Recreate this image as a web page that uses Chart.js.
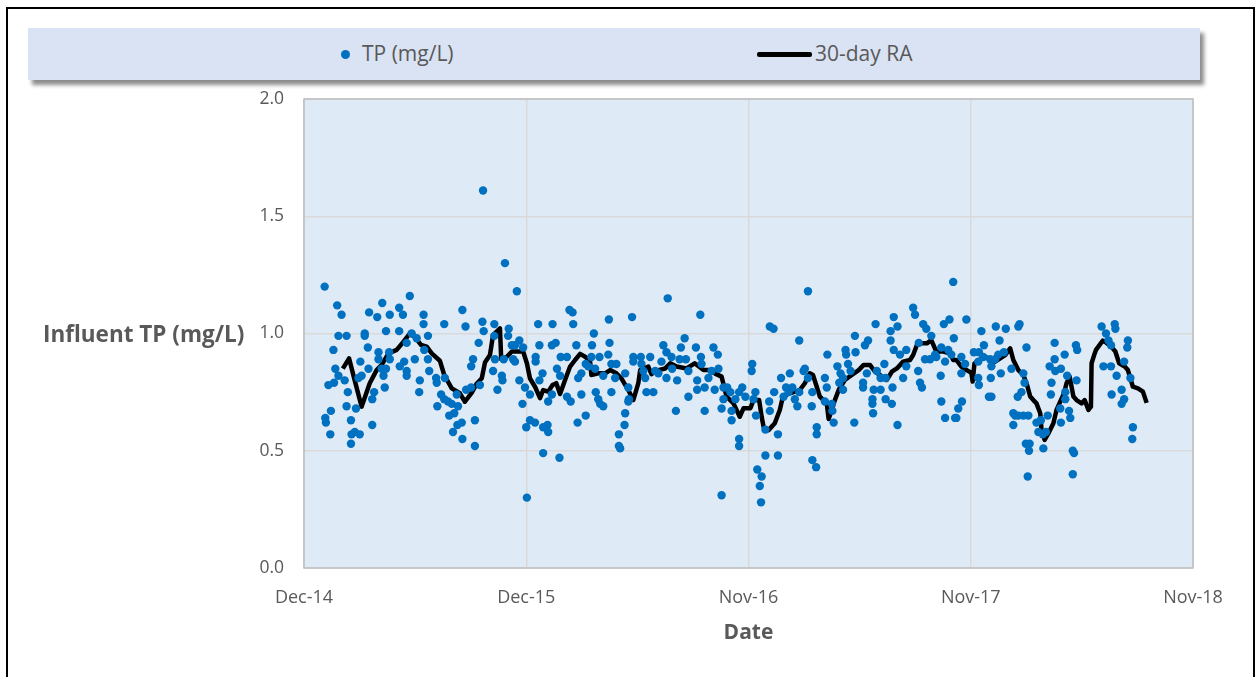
<!DOCTYPE html>
<html>
<head>
<meta charset="utf-8">
<script src="https://cdn.jsdelivr.net/npm/chart.js@4.4.0/dist/chart.umd.min.js"></script>
<style>
  html, body { margin: 0; padding: 0; background: #fff; }
  #wrap { position: relative; width: 1255px; height: 677px; overflow: hidden; font-family: "Open Sans", sans-serif; color: #595959; }
  #frame { position: absolute; left: 6px; top: 7px; width: 1249px; height: 720px; border: 2px solid #000; box-sizing: border-box; }
  #legend { position: absolute; left: 28px; top: 28px; width: 1172px; height: 52px; background: #dae3f3; box-shadow: 4px 5px 4px rgba(0,0,0,0.45); }
  #legend .dot { position: absolute; left: 313px; top: 22px; width: 9px; height: 9px; border-radius: 50%; background: #0070c0; }
  #legend .line { position: absolute; left: 729px; top: 24px; width: 55px; height: 5px; border-radius: 2px; background: #000; }
  #legend .txt { position: absolute; top: 11px; font-size: 21px; line-height: 28px; white-space: nowrap; }
  canvas { position: absolute; left: 0; top: 0; }
</style>
</head>
<body>
<div id="wrap">
  <div id="frame"></div>
  <div id="legend">
    <span class="dot"></span><span class="txt" style="left:334px">TP (mg/L)</span>
    <span class="line"></span><span class="txt" style="left:787px">30-day RA</span>
  </div>
  <canvas id="myChart" width="1255" height="677"></canvas>
</div>
<script>
// x = days after 20 Dec 2014
const xTickLabels = ['Dec-14', 'Dec-15', 'Nov-16', 'Nov-17', 'Nov-18'];
const yTitle = 'Influent TP (mg/L)';

// daily TP samples [day, mg/L]
const tpPoints = [
  [33,1.20],[53,1.12],[60,1.08],[125,1.13],[104,1.09],[117,1.07],[152,1.11],[137,1.08],[158,1.08],[169,1.16],
  [55,0.99],[68,0.99],[97,1.00],[97,0.99],[131,1.01],[152,1.01],[47,0.93],[102,0.94],[119,0.92],[136,0.92],
  [119,0.89],[137,0.89],[90,0.88],[50,0.85],[103,0.85],[160,0.88],[153,0.86],[124,0.85],[131,0.85],[164,0.84],
  [164,0.96],[55,0.82],[65,0.80],[92,0.82],[87,0.81],[48,0.79],[39,0.78],[127,0.82],[164,0.82],[70,0.75],
  [112,0.75],[129,0.77],[109,0.72],[68,0.69],[83,0.68],[43,0.67],[34,0.64],[35,0.62],[75,0.63],[109,0.61],
  [42,0.57],[76,0.57],[89,0.57],[81,0.58],[75,0.53],
  [286,1.61],[321,1.30],[191,1.08],[191,1.04],[224,1.04],[253,1.10],[258,1.03],[285,1.05],[287,1.01],[304,1.04],
  [304,0.99],[327,1.02],[326,0.99],[172,1.00],[180,0.98],[198,0.99],[279,0.96],[332,0.95],[192,0.93],[177,0.89],
  [198,0.89],[270,0.89],[267,0.86],[305,0.89],[319,0.89],[200,0.84],[302,0.84],[185,0.80],[211,0.81],[225,0.81],
  [212,0.79],[316,0.82],[317,0.80],[309,0.76],[184,0.75],[259,0.76],[267,0.77],[281,0.78],[219,0.74],[244,0.74],
  [224,0.72],[230,0.71],[213,0.69],[236,0.70],[246,0.69],[232,0.65],[240,0.66],[245,0.61],[252,0.62],[273,0.63],
  [238,0.58],[253,0.55],[273,0.52],
  [340,1.18],[424,1.10],[429,1.09],[430,1.04],[374,1.04],[397,1.04],[487,1.06],[463,1.00],[344,0.97],[376,0.95],
  [396,0.95],[402,0.96],[435,0.95],[460,0.95],[488,0.96],[337,0.95],[350,0.94],[370,0.90],[370,0.88],[410,0.90],
  [420,0.90],[459,0.90],[472,0.90],[486,0.91],[334,0.89],[337,0.88],[404,0.85],[409,0.82],[450,0.87],[454,0.86],
  [465,0.85],[491,0.87],[499,0.87],[381,0.83],[443,0.83],[438,0.81],[478,0.82],[497,0.81],[344,0.80],[376,0.80],
  [353,0.77],[361,0.74],[420,0.73],[426,0.71],[396,0.74],[390,0.71],[443,0.74],[466,0.75],[470,0.72],[478,0.69],
  [473,0.70],[491,0.75],[349,0.70],[450,0.65],[437,0.62],[361,0.63],[369,0.62],[355,0.60],[382,0.60],[389,0.61],
  [390,0.58],[382,0.49],[408,0.47],[356,0.30],
  [581,1.15],[524,1.07],[633,1.08],[608,0.98],[574,0.95],[602,0.94],[626,0.94],[654,0.94],[661,0.91],[579,0.92],
  [587,0.90],[634,0.90],[526,0.90],[538,0.90],[553,0.90],[526,0.88],[539,0.87],[571,0.88],[600,0.89],[610,0.89],
  [635,0.87],[542,0.84],[561,0.84],[588,0.85],[614,0.84],[651,0.84],[662,0.85],[513,0.83],[566,0.83],[545,0.81],
  [579,0.81],[596,0.80],[628,0.80],[646,0.81],[518,0.77],[547,0.75],[558,0.75],[628,0.76],[640,0.77],[656,0.76],
  [670,0.77],[614,0.73],[519,0.72],[518,0.71],[594,0.67],[640,0.67],[667,0.68],[513,0.66],[512,0.61],[503,0.57],
  [503,0.52],[505,0.51],[667,0.31],
  [805,1.18],[744,1.03],[750,1.02],[791,0.97],[716,0.87],[715,0.84],[800,0.85],[798,0.84],[836,0.91],[776,0.83],
  [762,0.81],[805,0.81],[832,0.81],[676,0.77],[700,0.77],[721,0.75],[751,0.75],[770,0.77],[780,0.77],[791,0.75],
  [812,0.75],[835,0.77],[681,0.75],[695,0.75],[705,0.73],[718,0.72],[766,0.73],[774,0.75],[784,0.72],[670,0.72],
  [689,0.72],[743,0.71],[788,0.69],[811,0.69],[832,0.71],[683,0.67],[744,0.67],[722,0.65],[683,0.63],[737,0.59],
  [757,0.57],[819,0.60],[819,0.57],[695,0.55],[695,0.52],[737,0.48],[757,0.48],[812,0.46],[818,0.43],[724,0.42],
  [731,0.39],[728,0.35],[730,0.28],
  [973,1.11],[976,1.08],[942,1.07],[948,1.03],[913,1.04],[937,1.01],[937,0.97],[880,0.99],[901,0.97],[896,0.95],
  [989,1.04],[994,1.02],[1002,0.99],[982,0.96],[865,0.93],[866,0.91],[881,0.92],[942,0.93],[962,0.93],[952,0.91],
  [992,0.89],[1000,0.89],[852,0.86],[869,0.87],[927,0.87],[962,0.86],[981,0.84],[857,0.83],[873,0.84],[899,0.83],
  [915,0.84],[861,0.81],[921,0.81],[929,0.81],[957,0.81],[893,0.79],[855,0.79],[861,0.76],[893,0.77],[910,0.76],
  [921,0.76],[940,0.77],[984,0.79],[987,0.77],[908,0.72],[929,0.72],[939,0.70],[908,0.70],[909,0.66],[843,0.70],
  [844,0.67],[846,0.62],[879,0.62],[948,0.61],
  [1037,1.22],[1031,1.06],[1022,1.04],[1058,1.06],[1105,1.03],[1121,1.02],[1141,1.03],[1143,1.04],[1082,1.01],[1038,0.98],
  [1111,0.97],[1086,0.95],[1154,0.94],[1018,0.94],[1029,0.93],[1070,0.92],[1078,0.92],[1118,0.92],[1008,0.91],[1010,0.90],
  [1034,0.91],[1050,0.90],[1085,0.90],[1109,0.91],[1024,0.88],[1056,0.87],[1077,0.88],[1096,0.89],[1104,0.89],[1098,0.86],
  [1130,0.85],[1050,0.83],[1113,0.83],[1149,0.83],[1017,0.82],[1077,0.81],[1097,0.81],[1078,0.78],[1151,0.79],[1146,0.75],
  [1140,0.73],[1094,0.73],[1098,0.73],[1018,0.71],[1051,0.71],[1045,0.68],[1024,0.64],[1040,0.64],[1042,0.64],[1133,0.66],
  [1136,0.65],[1141,0.65],[1149,0.65],[1157,0.65],[1133,0.61],[1170,0.62],[1173,0.58],[1153,0.53],[1159,0.53],[1158,0.50],
  [1156,0.39],
  [1274,1.03],[1281,1.00],[1295,1.04],[1296,1.02],[1285,0.97],[1289,0.95],[1316,0.97],[1315,0.94],[1199,0.96],[1233,0.95],
  [1235,0.93],[1215,0.91],[1199,0.89],[1310,0.88],[1277,0.86],[1289,0.86],[1191,0.86],[1200,0.84],[1209,0.85],[1298,0.82],
  [1320,0.81],[1219,0.82],[1234,0.80],[1194,0.79],[1216,0.75],[1193,0.74],[1290,0.74],[1306,0.76],[1310,0.72],[1306,0.70],
  [1216,0.72],[1208,0.68],[1222,0.67],[1224,0.64],[1209,0.62],[1188,0.65],[1177,0.63],[1185,0.58],[1180,0.57],[1181,0.51],
  [1228,0.50],[1230,0.49],[1228,0.40],[1324,0.60],[1323,0.55]
];

// 30-day rolling average [day, mg/L]
const raPoints = [
  [62,0.85],[72,0.894],[81,0.80],[92,0.688],[105,0.788],[116,0.844],[124,0.866],[135,0.915],[148,0.93],[159,0.965],[169,1.0],
  [177,0.986],[187,0.951],[196,0.944],[204,0.915],[217,0.884],[224,0.823],[236,0.766],[249,0.745],[257,0.709],[268,0.748],
  [276,0.787],[284,0.809],[289,0.876],[297,0.908],[302,0.993],[313,1.022],[315,0.89],[324,0.901],[332,0.923],
  [350,0.923],[356,0.873],[361,0.808],[369,0.773],[377,0.724],[382,0.759],[390,0.752],[397,0.78],[403,0.788],[409,0.742],
  [417,0.802],[425,0.859],[433,0.887],[441,0.913],[449,0.901],[457,0.88],[459,0.823],[470,0.83],[481,0.83],[489,0.844],[499,0.83],
  [507,0.809],[518,0.759],[526,0.716],[534,0.788],[537,0.844],[550,0.859],[555,0.827],[566,0.844],[577,0.851],[585,0.873],
  [595,0.859],[611,0.851],[624,0.873],[638,0.844],[646,0.844],[656,0.83],[667,0.816],
  [675,0.731],[686,0.702],[696,0.645],[702,0.681],[713,0.681],[718,0.716],[727,0.716],[731,0.645],[734,0.603],[742,0.588],
  [752,0.617],[760,0.674],[765,0.731],[776,0.745],[792,0.759],[800,0.788],[808,0.83],[813,0.823],[819,0.773],[824,0.731],
  [835,0.702],[838,0.635],
  [843,0.674],[848,0.716],[854,0.759],[864,0.802],[875,0.823],[886,0.844],[894,0.866],[904,0.866],[912,0.837],[920,0.823],
  [931,0.802],[939,0.837],[947,0.851],[957,0.88],[968,0.887],[973,0.908],[979,0.951],[987,0.958],[995,0.958],[1002,0.972],
  [1010,0.923],[1021,0.923],[1032,0.915],[1037,0.887],[1042,0.887],[1050,0.859],[1058,0.844],[1066,0.833],[1068,0.795],
  [1071,0.873],[1079,0.887],[1088,0.901],[1096,0.89],[1104,0.88],[1112,0.894],[1120,0.908],[1128,0.937],[1133,0.887],
  [1141,0.844],[1149,0.823],[1155,0.78],[1160,0.731],[1165,0.716],[1170,0.702],[1176,0.66],
  [1178,0.591],[1183,0.546],[1189,0.574],[1197,0.617],[1202,0.674],[1209,0.716],[1214,0.745],[1218,0.788],[1223,0.816],
  [1229,0.731],[1234,0.716],[1242,0.702],[1247,0.716],[1253,0.674],[1257,0.688],[1258,0.873],[1263,0.915],[1265,0.93],
  [1276,0.97],[1282,0.96],[1289,0.945],[1296,0.923],[1302,0.873],[1311,0.859],[1316,0.844],[1324,0.773],[1332,0.766],
  [1340,0.752],[1346,0.704]
];

const plotArea = {
  id: 'plotArea',
  beforeDraw: (chart) => {
    const {ctx, chartArea: a} = chart;
    ctx.save();
    ctx.fillStyle = '#deebf7';
    ctx.fillRect(a.left, a.top, a.right - a.left, a.bottom - a.top);
    ctx.restore();
  },
  afterDraw: (chart) => {
    const {ctx, chartArea: a} = chart;
    ctx.save();
    ctx.strokeStyle = '#bfbfbf';
    ctx.lineWidth = 1.5;
    ctx.strokeRect(a.left, a.top, a.right - a.left, a.bottom - a.top);
    // horizontal y-axis title
    ctx.fillStyle = '#595959';
    ctx.font = 'bold 22.5px "Open Sans"';
    ctx.textBaseline = 'middle';
    ctx.textAlign = 'left';
    ctx.fillText(yTitle, 43, chart.scales.y.getPixelForValue(1) + 2);
    ctx.restore();
  }
};

const ctx = document.getElementById('myChart');
new Chart(ctx, {
  type: 'scatter',
  data: {
    datasets: [
      {
        label: 'TP (mg/L)',
        data: tpPoints.map(p => ({x: p[0], y: p[1]})),
        backgroundColor: '#0070c0',
        borderWidth: 0,
        pointRadius: 4.2,
        order: 1
      },
      {
        label: '30-day RA',
        type: 'line',
        data: raPoints.map(p => ({x: p[0], y: p[1]})),
        borderColor: '#000',
        borderWidth: 4.5,
        pointRadius: 0,
        tension: 0,
        fill: false,
        borderJoinStyle: 'round',
        order: 2
      }
    ]
  },
  options: {
    responsive: false,
    animation: false,
    devicePixelRatio: 1,
    layout: { padding: { top: 99, right: 62, left: 0, bottom: 0 } },
    plugins: {
      legend: { display: false },
      tooltip: { enabled: false }
    },
    scales: {
      x: {
        type: 'linear',
        min: 0,
        max: 1420,
        afterFit: (s) => { s.height = 109; },
        ticks: {
          stepSize: 355,
          padding: 19,
          color: '#595959',
          font: { family: 'Open Sans', size: 18 },
          callback: (v, i) => xTickLabels[i]
        },
        grid: { color: '#d9d9d9', lineWidth: 1.5, drawTicks: false },
        border: { display: false },
        title: {
          display: true,
          text: 'Date',
          color: '#595959',
          font: { family: 'Open Sans', size: 21, weight: 'bold' },
          padding: { top: 0, bottom: 31 }
        }
      },
      y: {
        min: 0,
        max: 2,
        afterFit: (s) => { s.width = 304; },
        ticks: {
          stepSize: 0.5,
          padding: 20,
          color: '#595959',
          font: { family: 'Open Sans', size: 17.5 },
          callback: (v) => v.toFixed(1)
        },
        grid: { color: '#d9d9d9', lineWidth: 1.5, drawTicks: false },
        border: { display: false }
      }
    }
  },
  plugins: [plotArea]
});
</script>
</body>
</html>
